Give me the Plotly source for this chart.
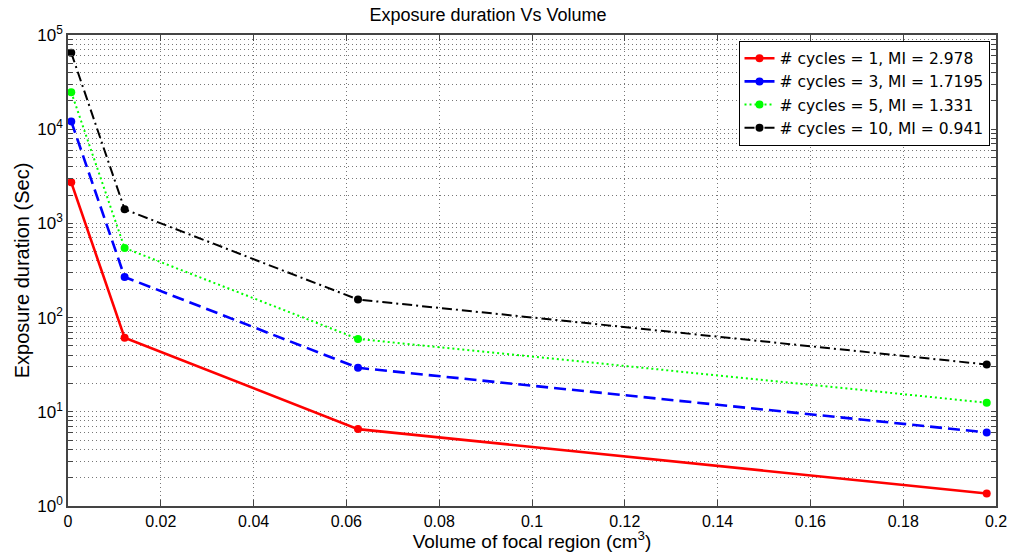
import plotly.graph_objects as go

# Focal-region volume (cm^3) for each simulated case
volume = [0.0007, 0.0122, 0.0625, 0.198]

# Exposure duration (s) per burst length
dur_c1 = [2730, 61, 6.55, 1.36]
dur_c3 = [12100, 270, 29.3, 6.04]
dur_c5 = [24700, 548, 59.4, 12.5]
dur_c10 = [64700, 1410, 155.6, 31.8]

series_names = [
    "# cycles = 1, MI = 2.978",
    "# cycles = 3, MI = 1.7195",
    "# cycles = 5, MI = 1.331",
    "# cycles = 10, MI = 0.941",
]
series_vals = [dur_c1, dur_c3, dur_c5, dur_c10]
colors = ["#ff0000", "#0000ff", "#00ff00", "#000000"]
dashes = ["solid", "12px,6px", "2px,3px", "10px,4px,2px,4px"]
widths = [2.6, 2.6, 2.0, 2.0]

x_ticks = [0, 0.02, 0.04, 0.06, 0.08, 0.1, 0.12, 0.14, 0.16, 0.18, 0.2]
x_ticktext = ["0", "0.02", "0.04", "0.06", "0.08", "0.1", "0.12", "0.14", "0.16", "0.18", "0.2"]

decades = [0, 1, 2, 3, 4, 5]
y_ticks = []
y_ticktext = []
for d in decades:
    for m in range(1, 10):
        if d == 5 and m > 1:
            break
        y_ticks.append(m * 10 ** d)
        y_ticktext.append(f"10<sup>{d}</sup>" if m == 1 else "")

fig = go.Figure()
for name, vals, c, dsh, w in zip(series_names, series_vals, colors, dashes, widths):
    fig.add_trace(go.Scatter(
        x=volume, y=vals, name=name, mode="lines+markers",
        line=dict(color=c, dash=dsh, width=w),
        marker=dict(color=c, size=8, symbol="circle"),
    ))

font_family = "Liberation Sans, Arial, sans-serif"
grid_dash = "1px,3px"

fig.update_layout(
    width=1011, height=552,
    margin=dict(l=68, r=15, t=35, b=46),
    paper_bgcolor="white", plot_bgcolor="white",
    font=dict(family=font_family, size=16, color="black"),
    title=dict(text="Exposure duration Vs Volume", x=488 / 1011, xanchor="center",
               y=1 - 15 / 552, yanchor="middle", font=dict(size=18)),
    showlegend=True,
    legend=dict(x=0.993, y=0.988, xanchor="right", yanchor="top",
                bgcolor="white", bordercolor="black", borderwidth=1,
                font=dict(size=15.5, family="DejaVu Sans, sans-serif"), tracegroupgap=0),
)

fig.update_xaxes(
    range=[0, 0.2], tickvals=x_ticks, ticktext=x_ticktext,
    showline=True, linecolor="#444444", linewidth=1.5, mirror="ticks",
    ticks="inside", ticklen=6, tickcolor="#444444",
    showgrid=True, gridcolor="#777777", griddash=grid_dash, gridwidth=1,
    zeroline=False, automargin=False,
    tickfont=dict(size=16),
    title=dict(text="Volume of focal region (cm<sup>3</sup>)", standoff=0, font=dict(size=19)),
)
fig.update_yaxes(
    type="log", range=[0, 5], tickvals=y_ticks, ticktext=y_ticktext,
    showline=True, linecolor="#444444", linewidth=1.5, mirror="ticks",
    ticks="inside", ticklen=5, tickcolor="#444444",
    showgrid=True, gridcolor="#777777", griddash=grid_dash, gridwidth=1,
    zeroline=False, automargin=False,
    title=dict(text="Exposure duration (Sec)", standoff=2, font=dict(size=20)),
    tickfont=dict(size=17),
)

fig.write_html("out.html")
